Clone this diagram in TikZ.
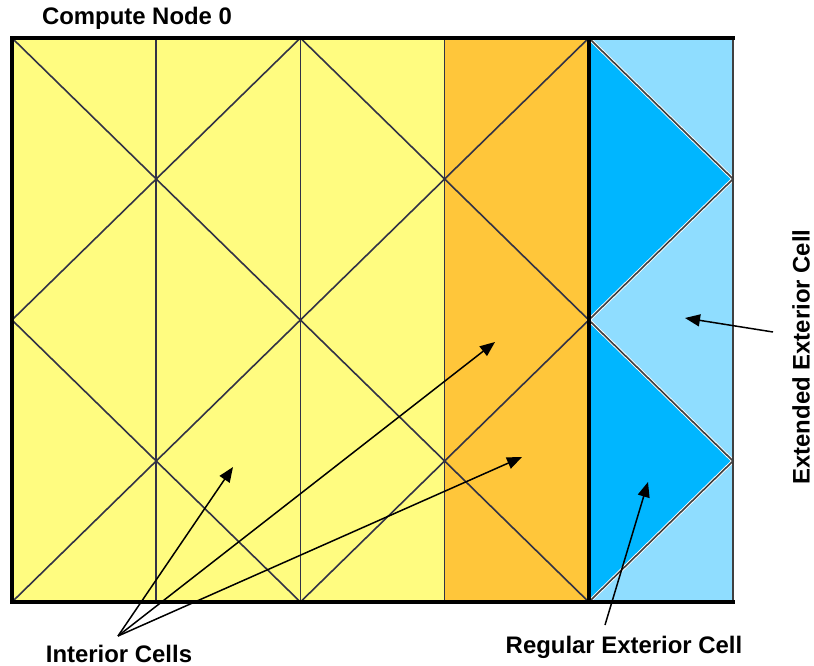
\documentclass[tikz,border=0pt]{standalone}
\usepackage{fontspec}
\setmainfont{Liberation Sans}
\usetikzlibrary{arrows.meta}
\definecolor{cellyellow}{RGB}{255,252,128}
\definecolor{cellorange}{RGB}{255,198,58}
\definecolor{extblue}{RGB}{143,221,255}
\definecolor{regblue}{RGB}{0,182,255}
\definecolor{gridline}{RGB}{50,50,70}

\begin{document}
\begin{tikzpicture}[x=1bp,y=-1bp,
lbl/.style={font=\fontsize{24}{28}\selectfont\bfseries,inner sep=0pt},
gridln/.style={line width=1.6bp,draw=gridline},
haloln/.style={line width=1.6bp,draw=black!75,preaction={draw=white,line width=3.4bp}},
framethick/.style={line width=4.5bp,line cap=rect},
pointer/.style={-{Triangle[length=15bp,width=12bp]},line width=1.5bp}
]
\useasboundingbox (0,0) rectangle (814,666);
\begin{scope}[shift={(12,38)},x=144.2bp,y=-141bp]
% cells
\fill[cellyellow] (0,0) rectangle (3,4);
\fill[cellorange] (3,0) rectangle (4,4);
\fill[extblue] (4,0) rectangle (5,4);
\fill[regblue] (4,0) -- (5,1) -- (4,2) -- (5,3) -- (4,4) -- cycle;
% diagonals
\draw[gridln] (0,0) -- (4,4);
\draw[gridln] (2,0) -- (4,2);
\draw[gridln] (0,2) -- (2,4);
\draw[gridln] (2,0) -- (0,2);
\draw[gridln] (4,0) -- (0,4);
\draw[gridln] (4,2) -- (2,4);
\draw[haloln] (4,0) -- (5,1) -- (4,2) -- (5,3) -- (4,4);
% columns
\foreach \i in {1,2,3}
  \draw[gridln] (\i,0) -- (\i,4);
\draw[line width=1.8bp,draw=black!75] (5,0) -- (5,4);
\draw[framethick] (0,0) rectangle (4,4);
\draw[framethick] (4,0) -- (5,0);
\draw[framethick] (4,4) -- (5,4);
\end{scope}
% labels
\node[lbl] (node0) at (137,18) {Compute Node 0};
\node[lbl] (interior) at (119,654) {Interior Cells};
\node[lbl] (regular) at (624,647) {Regular Exterior Cell};
\node[lbl,rotate=90] (extended) at (801,357) {Extended Exterior Cell};
\coordinate (fan) at (118,636);
\coordinate (regfoot) at (605,625);
\coordinate (extfoot) at (773,332);
\coordinate (cellA) at (233,467);
\coordinate (cellB) at (495,342);
\coordinate (cellC) at (522,457);
\coordinate (regcell) at (648,482);
\coordinate (extcell) at (685,318);
\draw[pointer] (fan) -- (cellA);
\draw[pointer] (fan) -- (cellB);
\draw[pointer] (fan) -- (cellC);
\draw[pointer] (regfoot) -- (regcell);
\draw[pointer] (extfoot) -- (extcell);
\end{tikzpicture}
\end{document}
